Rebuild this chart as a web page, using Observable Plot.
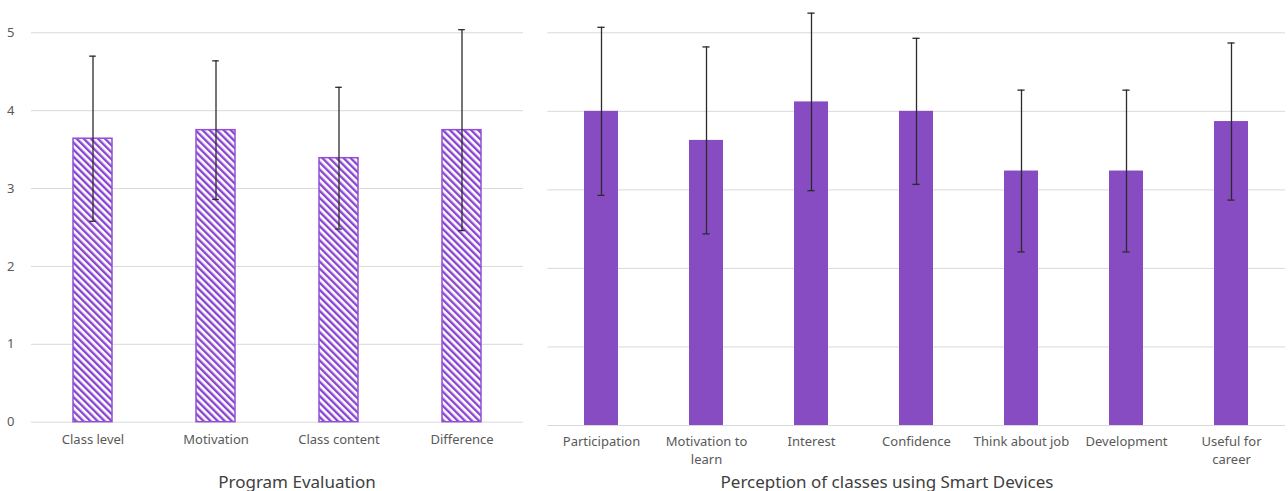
<!DOCTYPE html>
<html>
<head>
<meta charset="utf-8">
<script src="https://cdn.jsdelivr.net/npm/d3@7"></script>
<script src="https://cdn.jsdelivr.net/npm/@observablehq/plot@0.6"></script>
<style>
  html, body { margin: 0; padding: 0; background: #fff; }
  #wrap { position: relative; width: 1288px; height: 491px; overflow: hidden; font-family: "Noto Sans", sans-serif; }
  .panel { position: absolute; top: 0; }
  .title { position: absolute; font-size: 17px; line-height: 17px; color: #404040; white-space: nowrap; transform: translate(-50%, -50%); }
</style>
</head>
<body>
<div id="wrap">
  <div id="left" class="panel" style="left:0px"></div>
  <div id="right" class="panel" style="left:535px"></div>
  <div class="title" style="left:297px; top:480.5px">Program Evaluation</div>
  <div class="title" style="left:887px; top:480.5px">Perception of classes using Smart Devices</div>
</div>
<script>
// ---- Data ----
const leftCategories = ["Class level", "Motivation", "Class content", "Difference"];
const leftMeans = [3.64, 3.75, 3.39, 3.75];
const leftSD = [1.06, 0.89, 0.91, 1.29];

const rightCategories = ["Participation", "Motivation to learn", "Interest", "Confidence", "Think about job", "Development", "Useful for career"];
const rightTickLabels = ["Participation", "Motivation to\nlearn", "Interest", "Confidence", "Think about job", "Development", "Useful for\ncareer"];
const rightMeans = [4.00, 3.63, 4.12, 4.00, 3.24, 3.24, 3.87];
const rightSD = [1.07, 1.19, 1.13, 0.93, 1.03, 1.03, 1.00];

const yTicks = [0, 1, 2, 3, 4, 5];

const purple = "#874bc2";
const gridColor = "#d9d9d9";
const textColor = "#595959";
const errColor = "#2b2b2b";

const leftData = leftCategories.map((c, i) => ({cat: c, mean: leftMeans[i], lo: leftMeans[i] - leftSD[i], hi: leftMeans[i] + leftSD[i]}));
const rightData = rightCategories.map((c, i) => ({cat: c, mean: rightMeans[i], lo: rightMeans[i] - rightSD[i], hi: rightMeans[i] + rightSD[i]}));

// ---- Left panel ----
const leftPlot = Plot.plot({
  width: 535,
  height: 491,
  marginLeft: 31,
  marginRight: 12,
  marginTop: 32.3,
  marginBottom: 69.3,
  style: {background: "transparent", fontFamily: "'Noto Sans', sans-serif"},
  x: {domain: leftCategories, paddingInner: 0.68, paddingOuter: 0.34},
  y: {domain: [0, 5]},
  marks: [
    Plot.ruleY(yTicks, {stroke: gridColor, strokeWidth: 1}),
    Plot.barY(leftData, {x: "cat", y: "mean", fill: "url(#hatch)", stroke: "#9150d6", strokeWidth: 1.5}),
    Plot.ruleX(leftData, {x: "cat", y1: "lo", y2: "hi", stroke: errColor, strokeWidth: 1.3}),
    Plot.tickY(leftData, {x: "cat", y: "hi", stroke: errColor, strokeWidth: 1.3, insetLeft: 16.2, insetRight: 16.2}),
    Plot.tickY(leftData, {x: "cat", y: "lo", stroke: errColor, strokeWidth: 1.3, insetLeft: 16.2, insetRight: 16.2}),
    Plot.axisX({tickSize: 0, tickPadding: 13, fontSize: 13, color: textColor, label: null}),
    Plot.axisY({ticks: yTicks, tickFormat: d => String(d), tickSize: 0, tickPadding: 17, fontSize: 13, color: textColor, label: null})
  ]
});
// hatch pattern definition
const defs = d3.select(leftPlot).insert("defs", ":first-child");
const pat = defs.append("pattern")
  .attr("id", "hatch")
  .attr("patternUnits", "userSpaceOnUse")
  .attr("width", 5)
  .attr("height", 5)
  .attr("patternTransform", "rotate(-45)");
pat.append("rect").attr("width", 5).attr("height", 5).attr("fill", "white");
pat.append("rect").attr("width", 2.4).attr("height", 5).attr("fill", "#8a45d0");
document.getElementById("left").appendChild(leftPlot);

// ---- Right panel ----
const rightPlot = Plot.plot({
  width: 753,
  height: 491,
  marginLeft: 12.3,
  marginRight: 3,
  marginTop: 32.3,
  marginBottom: 66,
  style: {background: "transparent", fontFamily: "'Noto Sans', sans-serif"},
  x: {domain: rightCategories, paddingInner: 0.68, paddingOuter: 0.34},
  y: {domain: [0, 5], axis: null},
  marks: [
    Plot.ruleY(yTicks, {stroke: gridColor, strokeWidth: 1}),
    Plot.barY(rightData, {x: "cat", y: "mean", fill: purple}),
    Plot.ruleX(rightData, {x: "cat", y1: "lo", y2: "hi", stroke: errColor, strokeWidth: 1.3}),
    Plot.tickY(rightData, {x: "cat", y: "hi", stroke: errColor, strokeWidth: 1.3, insetLeft: 13.4, insetRight: 13.4}),
    Plot.tickY(rightData, {x: "cat", y: "lo", stroke: errColor, strokeWidth: 1.3, insetLeft: 13.4, insetRight: 13.4}),
    Plot.axisX({tickSize: 0, tickPadding: 8, fontSize: 13, color: textColor, label: null, lineHeight: 1.38,
      tickFormat: d => rightTickLabels[rightCategories.indexOf(d)]})
  ]
});
document.getElementById("right").appendChild(rightPlot);
</script>
</body>
</html>
